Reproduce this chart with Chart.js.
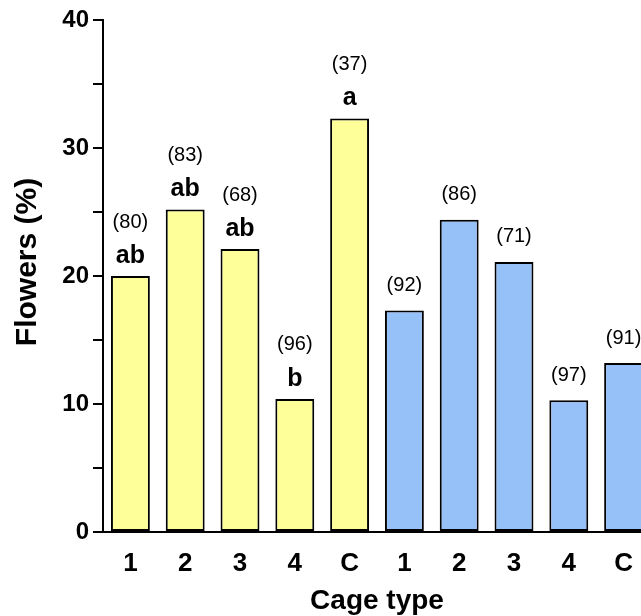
<!DOCTYPE html>
<html><head><meta charset="utf-8">
<script src="https://cdn.jsdelivr.net/npm/chart.js@4/dist/chart.umd.min.js"></script>
<style>
html,body{margin:0;padding:0;background:#fff;overflow:hidden;width:641px;height:616px;}
#wrap{position:absolute;left:0;top:0;width:660px;height:616px;}
</style></head><body>
<div id="wrap"><canvas id="c" width="660" height="616"></canvas></div>
<script>
const categories = ['1','2','3','4','C','1','2','3','4','C'];
const yellowValues = [20.0, 25.2, 22.1, 10.4, 32.3];
const blueValues = [17.3, 24.4, 21.1, 10.3, 13.2];
const yellowCounts = ['(80)','(83)','(68)','(96)','(37)'];
const blueCounts = ['(92)','(86)','(71)','(97)','(91)'];
const yellowLetters = ['ab','ab','ab','b','a'];
const yTickLabels = [0,10,20,30,40];
const yTitle = 'Flowers (%)';
const xTitle = 'Cage type';

const FONT = '"Liberation Sans", Arial, sans-serif';
const empty5 = Array(5).fill(null);

const labelPlugin = {
  id: 'barLabels',
  afterDatasetsDraw(chart) {
    const ctx = chart.ctx;
    ctx.save();
    ctx.fillStyle = '#000';
    ctx.textAlign = 'center';
    ctx.textBaseline = 'middle';
    const m0 = chart.getDatasetMeta(0);
    yellowValues.forEach((v, i) => {
      const el = m0.data[i];
      ctx.font = 'bold 25px ' + FONT;
      ctx.fillText(yellowLetters[i], el.x, el.y - 20);
      ctx.font = '20px ' + FONT;
      ctx.fillText(yellowCounts[i], el.x, el.y - 54);
    });
    const m1 = chart.getDatasetMeta(1);
    blueValues.forEach((v, i) => {
      const el = m1.data[i + 5];
      ctx.font = '20px ' + FONT;
      ctx.fillText(blueCounts[i], el.x, el.y - 25);
    });
    // y-axis title
    const ca = chart.chartArea;
    ctx.translate(28, (ca.top + ca.bottom) / 2 - 14);
    ctx.rotate(-Math.PI / 2);
    ctx.font = 'bold 30px ' + FONT;
    ctx.fillText(yTitle, 0, 0);
    ctx.restore();
  }
};

new Chart(document.getElementById('c'), {
  type: 'bar',
  data: {
    labels: categories,
    datasets: [
      { data: yellowValues.concat(empty5), backgroundColor: '#FFFF99', borderColor: '#000', borderWidth: 2, borderSkipped: false },
      { data: empty5.concat(blueValues), backgroundColor: '#96C0F8', borderColor: '#000', borderWidth: 2, borderSkipped: false }
    ]
  },
  options: {
    responsive: false,
    animation: false,
    devicePixelRatio: 1,
    layout: { padding: { top: 20, right: 9, left: 0, bottom: 0 } },
    datasets: { bar: { grouped: false, barPercentage: 0.71, categoryPercentage: 1 } },
    plugins: { legend: { display: false }, tooltip: { enabled: false } },
    scales: {
      x: {
        grid: { display: false, drawTicks: false },
        border: { display: true, color: '#000', width: 2 },
        ticks: { color: '#000', font: { family: FONT, size: 26, weight: 'bold' }, padding: 16, autoSkip: false, maxRotation: 0 },
        title: { display: true, text: xTitle, color: '#000', font: { family: FONT, size: 28, weight: 'bold', lineHeight: 1 }, padding: { top: 0, bottom: 1 } },
        afterFit(s) { s.height = 84; }
      },
      y: {
        min: 0, max: 40,
        grid: { display: true, drawOnChartArea: false, drawTicks: true, tickLength: 10, color: '#000', lineWidth: 2 },
        border: { display: true, color: '#000', width: 2 },
        ticks: { stepSize: 5, autoSkip: false, color: '#000', padding: 4,
          font: { family: FONT, size: 24, weight: 'bold' },
          callback: (v) => yTickLabels.includes(v) ? String(v) : '' },
        title: { display: false },
        afterFit(s) { s.width = 103; }
      }
    }
  },
  plugins: [labelPlugin]
});
</script>
</body></html>
